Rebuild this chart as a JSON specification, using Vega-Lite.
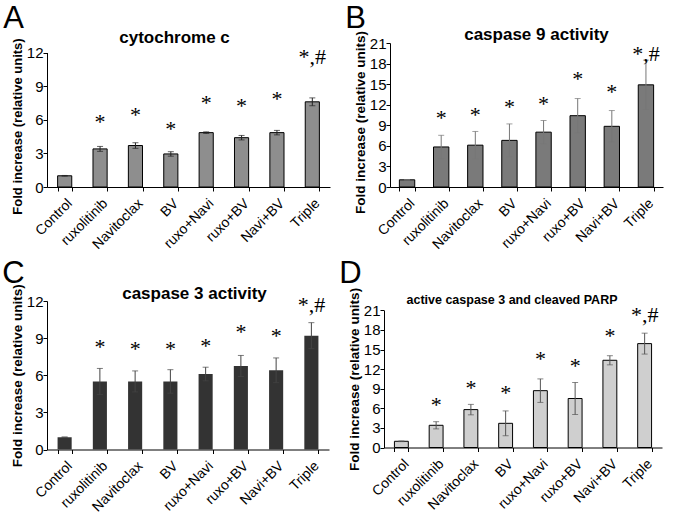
{
  "$schema": "https://vega.github.io/schema/vega-lite/v6.json",
  "padding": {"left": 2, "top": 3, "right": 4, "bottom": 0},
  "background": "white",
  "config": {
    "view": {"stroke": null},
    "font": "Liberation Sans",
    "axis": {"domainColor": "#000", "tickColor": "#000", "labelColor": "#000", "labelFont": "Liberation Sans", "labelFontSize": 15, "grid": false, "titleFont": "Liberation Sans", "titleFontSize": 13.5, "titleFontWeight": "bold", "titleColor": "#000", "tickSize": 4, "labelOverlap": false, "labelBound": false},
    "axisX": {"labelAngle": -45, "tickBand": "extent", "labelPadding": 5, "labelFontSize": 14},
    "axisY": {"labelPadding": 0, "titlePadding": 2},
    "title": {"font": "Liberation Sans", "fontSize": 31, "fontWeight": "normal", "color": "#000", "anchor": "start", "frame": "bounds", "baseline": "alphabetic"}
  },
  "spacing": 6,
  "vconcat": [
    {
      "spacing": 15,
      "hconcat": [
        {
          "title": {"text": "A", "offset": -10, "dx": -8},
          "width": 283, "height": 144,
          "data": {"values": [
            {"group": "Control", "value": 1.0, "err": 0.03, "star": 0, "sig": ""},
            {"group": "ruxolitinib", "value": 3.4, "err": 0.22, "star": 6.1, "sig": "*"},
            {"group": "Navitoclax", "value": 3.7, "err": 0.25, "star": 6.7, "sig": "*"},
            {"group": "BV", "value": 2.95, "err": 0.2, "star": 5.4, "sig": "*"},
            {"group": "ruxo+Navi", "value": 4.85, "err": 0.07, "star": 7.8, "sig": "*"},
            {"group": "ruxo+BV", "value": 4.4, "err": 0.2, "star": 7.5, "sig": "*"},
            {"group": "Navi+BV", "value": 4.85, "err": 0.2, "star": 8.1, "sig": "*"},
            {"group": "Triple", "value": 7.6, "err": 0.35, "star": 11.85, "sig": "*,#"}
          ]},
          "resolve": {"axis": {"x": "independent"}},
          "layer": [
            {"mark": {"type": "bar", "fill": "#8e8e8e", "stroke": "#000", "strokeWidth": 1},
             "encoding": {
               "x": {"field": "group", "type": "nominal", "sort": null, "title": null, "scale": {"paddingInner": 0.6, "paddingOuter": 0.3}},
               "y": {"field": "value", "type": "quantitative", "title": "Fold increase (relative units)", "scale": {"domain": [0, 12], "range": [144, 9.5], "nice": false}, "axis": {"values": [0, 3, 6, 9, 12], "labelOverlap": false, "titleY": 83, "titleFontSize": 13}}}},
            {"mark": {"type": "errorbar", "ticks": {"size": 6}, "color": "#222"},
             "encoding": {
               "x": {"field": "group", "type": "nominal", "sort": null, "axis": null},
               "y": {"field": "value", "type": "quantitative", "title": "Fold increase (relative units)", "axis": {"values": [0, 3, 6, 9, 12], "labelOverlap": false, "titleY": 83, "titleFontSize": 13}}, "yError": {"field": "err"}}},
            {"mark": {"type": "text", "font": "Liberation Serif", "fontSize": 22, "baseline": "middle", "dy": 3},
             "encoding": {
               "x": {"field": "group", "type": "nominal", "sort": null, "axis": {"orient": "top", "labels": false, "ticks": false, "domain": false, "minExtent": 18, "maxExtent": 18, "title": "cytochrome c", "titleFontSize": 17, "titleX": 127, "titleY": -1, "titleBaseline": "alphabetic", "titleAlign": "center"}},
               "y": {"field": "star", "type": "quantitative", "title": "Fold increase (relative units)", "axis": {"values": [0, 3, 6, 9, 12], "labelOverlap": false, "titleY": 83, "titleFontSize": 13}}, "text": {"field": "sig"}}}
          ]
        },
        {
          "title": {"text": "B", "offset": -10, "dx": -8},
          "width": 273, "height": 144,
          "data": {"values": [
            {"group": "Control", "value": 1.05, "err": 0, "star": 0, "sig": ""},
            {"group": "ruxolitinib", "value": 5.84, "err": 1.7, "star": 10.5, "sig": "*"},
            {"group": "Navitoclax", "value": 6.1, "err": 2.0, "star": 10.9, "sig": "*"},
            {"group": "BV", "value": 6.8, "err": 2.4, "star": 12.1, "sig": "*"},
            {"group": "ruxo+Navi", "value": 8.0, "err": 1.7, "star": 12.6, "sig": "*"},
            {"group": "ruxo+BV", "value": 10.4, "err": 2.5, "star": 16.2, "sig": "*"},
            {"group": "Navi+BV", "value": 8.85, "err": 2.3, "star": 14.3, "sig": "*"},
            {"group": "Triple", "value": 14.9, "err": 3.6, "star": 19.9, "sig": "*,#"}
          ]},
          "resolve": {"axis": {"x": "independent"}},
          "layer": [
            {"mark": {"type": "bar", "fill": "#7a7a7a", "stroke": "#000", "strokeWidth": 1},
             "encoding": {
               "x": {"field": "group", "type": "nominal", "sort": null, "title": null, "scale": {"paddingInner": 0.55, "paddingOuter": 0.275}},
               "y": {"field": "value", "type": "quantitative", "title": "Fold increase (relative units)", "scale": {"domain": [0, 21], "nice": false}, "axis": {"values": [0, 3, 6, 9, 12, 15, 18, 21], "labelOverlap": false, "titleY": 79}}}},
            {"mark": {"type": "errorbar", "ticks": {"size": 6}, "color": "#777"},
             "encoding": {
               "x": {"field": "group", "type": "nominal", "sort": null, "axis": null},
               "y": {"field": "value", "type": "quantitative", "title": "Fold increase (relative units)", "axis": {"values": [0, 3, 6, 9, 12, 15, 18, 21], "labelOverlap": false, "titleY": 79}}, "yError": {"field": "err"}}},
            {"mark": {"type": "text", "font": "Liberation Serif", "fontSize": 22, "baseline": "middle", "dy": 3},
             "encoding": {
               "x": {"field": "group", "type": "nominal", "sort": null, "axis": {"orient": "top", "labels": false, "ticks": false, "domain": false, "minExtent": 18, "maxExtent": 18, "title": "caspase 9 activity", "titleFontSize": 17, "titleX": 146, "titleY": -4, "titleBaseline": "alphabetic", "titleAlign": "center"}},
               "y": {"field": "star", "type": "quantitative", "title": "Fold increase (relative units)", "axis": {"values": [0, 3, 6, 9, 12, 15, 18, 21], "labelOverlap": false, "titleY": 79}}, "text": {"field": "sig"}}}
          ]
        }
      ]
    },
    {
      "spacing": 10,
      "hconcat": [
        {
          "title": {"text": "C", "offset": -9, "dx": -8},
          "width": 282, "height": 148.5,
          "data": {"values": [
            {"group": "Control", "value": 1.0, "err": 0, "star": 0, "sig": ""},
            {"group": "ruxolitinib", "value": 5.5, "err": 1.05, "star": 8.5, "sig": "*"},
            {"group": "Navitoclax", "value": 5.5, "err": 0.85, "star": 8.35, "sig": "*"},
            {"group": "BV", "value": 5.5, "err": 0.95, "star": 8.35, "sig": "*"},
            {"group": "ruxo+Navi", "value": 6.1, "err": 0.55, "star": 8.6, "sig": "*"},
            {"group": "ruxo+BV", "value": 6.75, "err": 0.85, "star": 9.7, "sig": "*"},
            {"group": "Navi+BV", "value": 6.4, "err": 1.0, "star": 9.45, "sig": "*"},
            {"group": "Triple", "value": 9.2, "err": 1.05, "star": 11.9, "sig": "*,#"}
          ]},
          "resolve": {"axis": {"x": "independent"}},
          "layer": [
            {"mark": {"type": "bar", "fill": "#333333"},
             "encoding": {
               "x": {"field": "group", "type": "nominal", "sort": null, "title": null, "scale": {"paddingInner": 0.6, "paddingOuter": 0.3}},
               "y": {"field": "value", "type": "quantitative", "title": "Fold increase (relative units)", "scale": {"domain": [0, 12], "nice": false}, "axis": {"values": [0, 3, 6, 9, 12], "labelOverlap": false}}}},
            {"mark": {"type": "errorbar", "ticks": {"size": 6}, "color": "#444"},
             "encoding": {
               "x": {"field": "group", "type": "nominal", "sort": null, "axis": null},
               "y": {"field": "value", "type": "quantitative", "title": "Fold increase (relative units)", "axis": {"values": [0, 3, 6, 9, 12], "labelOverlap": false}}, "yError": {"field": "err"}}},
            {"mark": {"type": "text", "font": "Liberation Serif", "fontSize": 22, "baseline": "middle", "dy": 3},
             "encoding": {
               "x": {"field": "group", "type": "nominal", "sort": null, "axis": {"orient": "top", "labels": false, "ticks": false, "domain": false, "minExtent": 20, "maxExtent": 20, "title": "caspase 3 activity", "titleFontSize": 17, "titleX": 147, "titleY": -3, "titleBaseline": "alphabetic", "titleAlign": "center"}},
               "y": {"field": "star", "type": "quantitative", "title": "Fold increase (relative units)", "axis": {"values": [0, 3, 6, 9, 12], "labelOverlap": false}}, "text": {"field": "sig"}}}
          ]
        },
        {
          "title": {"text": "D", "offset": -9, "dx": -8},
          "width": 278, "height": 146.5,
          "data": {"values": [
            {"group": "Control", "value": 0.95, "err": 0.05, "star": 0, "sig": ""},
            {"group": "ruxolitinib", "value": 3.4, "err": 0.55, "star": 7.0, "sig": "*"},
            {"group": "Navitoclax", "value": 5.8, "err": 0.8, "star": 9.5, "sig": "*"},
            {"group": "BV", "value": 3.7, "err": 1.9, "star": 8.8, "sig": "*"},
            {"group": "ruxo+Navi", "value": 8.7, "err": 1.8, "star": 14.0, "sig": "*"},
            {"group": "ruxo+BV", "value": 7.5, "err": 2.45, "star": 13.0, "sig": "*"},
            {"group": "Navi+BV", "value": 13.35, "err": 0.7, "star": 17.6, "sig": "*"},
            {"group": "Triple", "value": 15.9, "err": 1.6, "star": 20.8, "sig": "*,#"}
          ]},
          "resolve": {"axis": {"x": "independent"}},
          "layer": [
            {"mark": {"type": "bar", "fill": "#cfcfcf", "stroke": "#000", "strokeWidth": 1},
             "encoding": {
               "x": {"field": "group", "type": "nominal", "sort": null, "title": null, "scale": {"paddingInner": 0.6, "paddingOuter": 0.3}},
               "y": {"field": "value", "type": "quantitative", "title": "Fold increase (relative units)", "scale": {"domain": [0, 21], "range": [146.5, 9.3], "nice": false}, "axis": {"values": [0, 3, 6, 9, 12, 15, 18, 21], "labelOverlap": false}}}},
            {"mark": {"type": "errorbar", "ticks": {"size": 6}, "color": "#555"},
             "encoding": {
               "x": {"field": "group", "type": "nominal", "sort": null, "axis": null},
               "y": {"field": "value", "type": "quantitative", "title": "Fold increase (relative units)", "axis": {"values": [0, 3, 6, 9, 12, 15, 18, 21], "labelOverlap": false}}, "yError": {"field": "err"}}},
            {"mark": {"type": "text", "font": "Liberation Serif", "fontSize": 22, "baseline": "middle", "dy": 3},
             "encoding": {
               "x": {"field": "group", "type": "nominal", "sort": null, "axis": {"orient": "top", "labels": false, "ticks": false, "domain": false, "minExtent": 20, "maxExtent": 20, "title": "active caspase 3 and cleaved PARP", "titleFontSize": 12.5, "titleX": 127.5, "titleY": 2, "titleBaseline": "alphabetic", "titleAlign": "center"}},
               "y": {"field": "star", "type": "quantitative", "title": "Fold increase (relative units)", "axis": {"values": [0, 3, 6, 9, 12, 15, 18, 21], "labelOverlap": false}}, "text": {"field": "sig"}}}
          ]
        }
      ]
    }
  ]
}
